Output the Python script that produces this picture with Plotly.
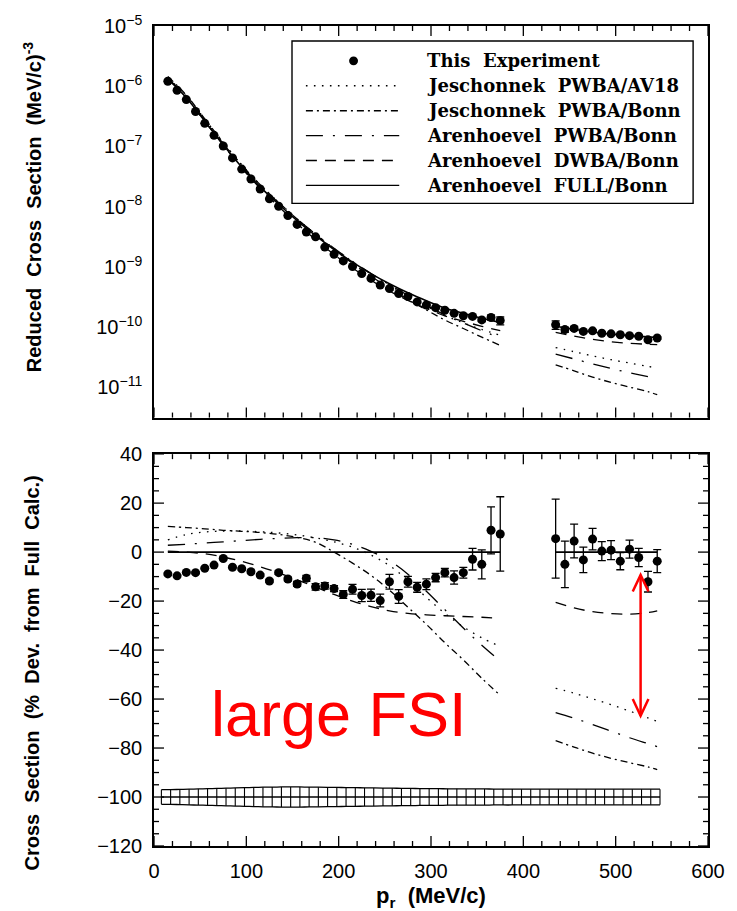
import math
import plotly.graph_objects as go

# ---------------- data ----------------
x_left = [15, 25, 35, 45, 55, 65, 75, 85, 95, 105, 115, 125, 135, 145, 155, 165, 175, 185,
          195, 205, 215, 225, 235, 245, 255, 265, 275, 285, 295, 305, 315, 325, 335, 345,
          355, 365, 375]
x_right = [435, 445, 455, 465, 475, 485, 495, 505, 515, 525, 535, 545]

xsec_left = [1.21e-6, 8.59e-7, 6.01e-7, 3.81e-7, 2.42e-7, 1.53e-7, 1.02e-7, 6.46e-8, 4.21e-8,
             2.88e-8, 1.97e-8, 1.35e-8, 1.02e-8, 7.14e-9, 5.08e-9, 3.80e-9, 3.16e-9, 2.14e-9,
             1.62e-9, 1.26e-9, 1.02e-9, 7.76e-10, 6.46e-10, 5.01e-10, 4.37e-10, 3.63e-10,
             3.24e-10, 2.63e-10, 2.34e-10, 2.11e-10, 1.91e-10, 1.70e-10, 1.55e-10, 1.51e-10,
             1.32e-10, 1.45e-10, 1.29e-10]
xsec_right = [1.10e-10, 9.12e-11, 9.55e-11, 8.51e-11, 8.71e-11, 7.94e-11, 7.76e-11, 7.50e-11,
              7.24e-11, 7.08e-11, 6.17e-11, 6.61e-11]

dev_left = [-8.9, -9.7, -8.3, -8.4, -6.6, -5.3, -2.6, -6.2, -6.8, -8.0, -9.4, -11.8, -8.4,
            -11.0, -13.0, -10.7, -14.2, -13.8, -14.9, -17.3, -15.2, -17.7, -17.6, -19.8,
            -12.1, -18.1, -12.1, -14.4, -13.1, -10.4, -8.4, -10.4, -8.4, -2.9, -5.0, 8.9, 7.4]
dev_right = [5.5, -5.0, 4.5, -3.2, 5.3, 0.4, 0.8, -3.7, 1.2, -2.2, -12.1, -3.7]

err_left = [0.4, 0.4, 0.4, 0.4, 0.4, 0.5, 0.5, 0.5, 0.5, 0.6, 0.6, 0.7, 0.7, 0.8, 1.0, 1.2,
            1.3, 1.3, 1.2, 1.6, 2.0, 2.5, 2.5, 2.6, 3.0, 2.8, 2.2, 2.0, 2.2, 1.7, 1.7, 2.7,
            2.2, 4.4, 5.9, 9.6, 15.2]
err_right = [16.1, 9.5, 6.9, 5.2, 4.4, 3.9, 3.9, 3.5, 3.7, 3.7, 4.2, 4.7]

th_x_left = [15, 35, 55, 75, 95, 115, 135, 155, 175, 195, 215, 235, 255, 275, 295, 315, 335,
             355, 375]
th_x_right = [435, 455, 475, 495, 515, 535, 545]

full_left = [1.318e-6, 6.46e-7, 2.63e-7, 1.07e-7, 4.57e-8, 2.14e-8, 1.10e-8, 5.89e-9, 3.31e-9,
             1.95e-9, 1.20e-9, 7.76e-10, 5.25e-10, 3.72e-10, 2.75e-10, 2.09e-10, 1.70e-10,
             1.41e-10, 1.20e-10]
full_right = [1.035e-10, 9.23e-11, 8.32e-11, 7.67e-11, 7.24e-11, 6.92e-11, 6.76e-11]

jav18_left = [5.0, 7.2, 8.2, 8.6, 8.6, 8.3, 7.8, 7.0, 5.8, 4.2, 2.0, -1.2, -5.5, -11.5, -18.5,
              -25.0, -30.5, -35.0, -38.5]
jav18_right = [-55.6, -57.6, -59.9, -62.3, -64.9, -67.7, -69.1]
jbonn_left = [10.5, 10.0, 9.5, 8.9, 8.5, 8.0, 7.2, 6.0, 4.0, 0.0, -4.5, -9.5, -15.5, -22.5,
              -29.5, -37.0, -44.0, -51.5, -58.5]
jbonn_right = [-77.0, -79.6, -82.1, -84.2, -86.0, -87.7, -88.8]
apwba_left = [2.8, 3.2, 3.7, 4.2, 4.7, 5.2, 5.6, 5.9, 5.9, 5.0, 3.2, 0.3, -3.5, -9.0, -16.0,
              -23.5, -31.0, -38.0, -44.5]
apwba_right = [-65.5, -67.8, -70.4, -73.1, -75.8, -78.2, -79.4]
adwba_left = [0.4, 0.0, -0.7, -2.0, -3.8, -6.0, -8.5, -11.3, -14.3, -17.3, -20.0, -22.3, -24.0,
              -25.0, -25.6, -26.0, -26.3, -26.6, -27.0]
adwba_right = [-20.5, -22.8, -24.3, -25.1, -25.3, -24.7, -24.0]

band_x = [8, 18, 28, 38, 48, 58, 68, 78, 88, 98, 108, 118, 128, 138, 148, 158, 168, 178, 188,
          198, 208, 218, 228, 238, 248, 258, 268, 278, 288, 298, 308, 318, 328, 338, 348, 358,
          368, 378, 388, 398, 408, 418, 428, 438, 448, 458, 468, 478, 488, 498, 508, 518, 528,
          538, 548]
band_hw = [3.0, 3.0, 3.1, 3.2, 3.3, 3.4, 3.5, 3.6, 3.7, 3.8, 3.9, 4.0, 4.05, 4.1, 4.1, 4.1,
           4.05, 4.0, 3.95, 3.9, 3.85, 3.8, 3.75, 3.7, 3.65, 3.6, 3.55, 3.5, 3.45, 3.4, 3.4,
           3.35, 3.35, 3.3, 3.3, 3.3, 3.25, 3.25, 3.25, 3.2, 3.2, 3.2, 3.2, 3.2, 3.2, 3.2, 3.2,
           3.2, 3.2, 3.2, 3.2, 3.2, 3.2, 3.2, 3.2]
band_center = -100

log_tick_vals = [1e-11, 1e-10, 1e-9, 1e-8, 1e-7, 1e-6, 1e-5]
log_tick_text = ["10<sup>\u221211</sup>", "10<sup>\u221210</sup>", "10<sup>\u22129</sup>",
                 "10<sup>\u22128</sup>", "10<sup>\u22127</sup>", "10<sup>\u22126</sup>",
                 "10<sup>\u22125</sup>"]

legend_labels = ["This\u00a0\u00a0Experiment", "Jeschonnek\u00a0\u00a0PWBA/AV18",
                 "Jeschonnek\u00a0\u00a0PWBA/Bonn", "Arenhoevel\u00a0\u00a0PWBA/Bonn",
                 "Arenhoevel\u00a0\u00a0DWBA/Bonn", "Arenhoevel\u00a0\u00a0FULL/Bonn"]

# ---------------- styles ----------------
DASH = {
    "jav18": "1.6px,6.4px",
    "jbonn": "7px,4px,2px,4px",
    "apwba": "17px,10px,2px,10px",
    "adwba": "11px,8px",
    "full": "solid",
}
LW = 1.3
FONT = "Liberation Sans, Arial, sans-serif"

fig = go.Figure()


def join(a, b):
    return list(a) + [None] + list(b)


data_x = join(x_left, x_right)
data_top = join(xsec_left, xsec_right)
data_err_pct = join(err_left, err_right)
data_top_err = [None if v is None else v * e / 100.0 for v, e in zip(data_top, data_err_pct)]
data_dev = join(dev_left, dev_right)

th_x = join(th_x_left, th_x_right)
full_all = join(full_left, full_right)
models = [
    ("jav18", join(jav18_left, jav18_right)),
    ("jbonn", join(jbonn_left, jbonn_right)),
    ("apwba", join(apwba_left, apwba_right)),
    ("adwba", join(adwba_left, adwba_right)),
]

# ---- top panel ----
for key, dev in models:
    ytop = [None if (f is None) else f * (1 + d / 100.0) for f, d in zip(full_all, dev)]
    fig.add_trace(go.Scatter(x=th_x, y=ytop, mode="lines", xaxis="x", yaxis="y",
                             line=dict(color="black", width=LW, dash=DASH[key], shape="spline"),
                             showlegend=False, hoverinfo="skip"))
fig.add_trace(go.Scatter(x=th_x, y=full_all, mode="lines", xaxis="x", yaxis="y",
                         line=dict(color="black", width=1.6, shape="spline"),
                         showlegend=False, hoverinfo="skip"))
fig.add_trace(go.Scatter(x=data_x, y=data_top, mode="markers", xaxis="x", yaxis="y",
                         marker=dict(color="black", size=9),
                         error_y=dict(type="data", array=data_top_err, color="black",
                                      thickness=1.3, width=4),
                         showlegend=False))

# ---- bottom panel ----
for key, dev in models:
    fig.add_trace(go.Scatter(x=th_x, y=dev, mode="lines", xaxis="x2", yaxis="y2",
                             line=dict(color="black", width=LW, dash=DASH[key], shape="spline"),
                             showlegend=False, hoverinfo="skip"))
zero_full = [None if f is None else 0.0 for f in full_all]
fig.add_trace(go.Scatter(x=th_x, y=zero_full, mode="lines", xaxis="x2", yaxis="y2",
                         line=dict(color="black", width=1.6), showlegend=False))
fig.add_trace(go.Scatter(x=data_x, y=data_dev, mode="markers", xaxis="x2", yaxis="y2",
                         marker=dict(color="black", size=9),
                         error_y=dict(type="data", array=data_err_pct, color="black",
                                      thickness=1.3, width=4),
                         showlegend=False))

# ---- hatched systematic band ----
upper = [band_center + h for h in band_hw]
lower = [band_center - h for h in band_hw]
fig.add_trace(go.Scatter(x=band_x, y=upper, mode="lines", xaxis="x2", yaxis="y2",
                         line=dict(color="black", width=1.3, shape="spline"), showlegend=False))
fig.add_trace(go.Scatter(x=band_x, y=lower, mode="lines", xaxis="x2", yaxis="y2",
                         line=dict(color="black", width=1.3, shape="spline"), showlegend=False))
fig.add_trace(go.Scatter(x=[band_x[0], band_x[-1]], y=[band_center, band_center], mode="lines",
                         xaxis="x2", yaxis="y2", line=dict(color="black", width=1.3),
                         showlegend=False))
vx, vy = [], []
for x, lo, up in zip(band_x, lower, upper):
    vx += [x, x, None]
    vy += [lo, up, None]
fig.add_trace(go.Scatter(x=vx, y=vy, mode="lines", xaxis="x2", yaxis="y2",
                         line=dict(color="black", width=1.1), showlegend=False))

# ---------------- layout ----------------
L, R, T, B = 154, 712, 23, 846
W, H = 737, 911


def xp(px):
    return (px - L) / (R - L)


def yp(py):
    return (B - py) / (B - T)


TICKFONT = dict(family=FONT, size=20, color="black")


def ax(**kw):
    d = dict(showline=True, linecolor="black", linewidth=1.6, mirror=True,
             ticks="", showgrid=False, zeroline=False, tickfont=TICKFONT)
    d.update(kw)
    return d


top_dom = [yp(416), 1]
bot_dom = [0, yp(452.7)]

fig.update_layout(
    width=W, height=H,
    margin=dict(l=L, r=W - R, t=T, b=H - B, pad=0),
    paper_bgcolor="white", plot_bgcolor="white",
    font=dict(family=FONT, color="black"),
    showlegend=False,
    xaxis=ax(domain=[0, 1], anchor="y", range=[0, 600], tickmode="linear", tick0=0, dtick=100,
             showticklabels=False),
    yaxis=ax(domain=top_dom, anchor="x", type="log", range=[-11.5, -5], tickmode="array",
             tickvals=log_tick_vals, ticktext=log_tick_text, ticklabelstandoff=6),
    xaxis2=ax(domain=[0, 1], anchor="y2", range=[0, 600], tickmode="linear", tick0=0,
              dtick=100, ticklabelstandoff=6),
    yaxis2=ax(domain=bot_dom, anchor="x2", range=[-120, 40], tickmode="linear", tick0=0,
              dtick=20, ticklabelstandoff=6),
)

shapes = []
annotations = []

# ---- tick marks (inside, mirrored on all four sides) ----
TICK_LINE = dict(color="black", width=1.3)


def x_ticks(xref, y_lo, y_hi, vals, length):
    for v in vals:
        for anchor, sign in ((y_lo, 1), (y_hi, -1)):
            shapes.append(dict(type="line", xref=xref, yref="paper", x0=v, x1=v,
                               ysizemode="pixel", yanchor=anchor, y0=0, y1=sign * length,
                               line=TICK_LINE))


def y_ticks(yref, vals, length):
    for v in vals:
        for anchor, sign in ((0, 1), (1, -1)):
            shapes.append(dict(type="line", xref="paper", yref=yref, y0=v, y1=v,
                               xsizemode="pixel", xanchor=anchor, x0=0, x1=sign * length,
                               line=TICK_LINE))


x_major = list(range(0, 601, 100))
x_minor = [v for v in range(0, 601, 20) if v % 100]
for xr, dom in (("x", top_dom), ("x2", bot_dom)):
    x_ticks(xr, dom[0], dom[1], x_major, 10)
    x_ticks(xr, dom[0], dom[1], x_minor, 5)

y_ticks("y", [math.log10(v) for v in log_tick_vals], 10)
log_minor = [math.log10(k * 10.0 ** e) for e in range(-12, -5) for k in range(2, 10)]
log_minor = [v for v in log_minor if -11.5 <= v <= -5]
y_ticks("y", log_minor, 6)

y2_major = list(range(-120, 41, 20))
y2_minor = [v for v in range(-120, 41, 5) if v % 20]
y_ticks("y2", y2_major, 10)
y_ticks("y2", y2_minor, 5)

# legend box
shapes.append(dict(type="rect", xref="paper", yref="paper", x0=xp(293), x1=xp(697),
                   y0=yp(201), y1=yp(38), line=dict(color="black", width=1.4),
                   fillcolor="white", layer="above"))
rows = [58, 83, 108, 133, 158, 183]
shapes.append(dict(type="circle", xref="paper", yref="paper", x0=xp(350.5), x1=xp(359.5),
                   y0=yp(62.5), y1=yp(53.5), fillcolor="black", line=dict(color="black", width=0)))
for key, ry in zip(["jav18", "jbonn", "apwba", "adwba", "full"], rows[1:]):
    shapes.append(dict(type="line", xref="paper", yref="paper", x0=xp(307), x1=xp(401),
                       y0=yp(ry), y1=yp(ry),
                       line=dict(color="black", width=1.4, dash=DASH[key])))
for lab, ry in zip(legend_labels, rows):
    annotations.append(dict(text=lab, xref="paper", yref="paper", x=xp(427), y=yp(ry),
                            xanchor="left", yanchor="middle", showarrow=False,
                            font=dict(family="DejaVu Serif, Liberation Serif, serif",
                                      size=18, color="black", weight="bold")))

# red double arrow (annotation, in data coords of lower panel)
ax_x, a_top, a_bot = 527, -9.3, -66.8
red = "#ff0000"
shapes.append(dict(type="line", xref="x2", yref="y2", x0=ax_x, x1=ax_x, y0=a_top, y1=a_bot,
                   line=dict(color=red, width=2.5)))
shapes.append(dict(type="path", xref="x2", yref="y2",
                   path=f"M {ax_x-8.5},{a_top-6.8} L {ax_x},{a_top} L {ax_x+8.5},{a_top-6.8}",
                   line=dict(color=red, width=2.5)))
shapes.append(dict(type="path", xref="x2", yref="y2",
                   path=f"M {ax_x-8.5},{a_bot+6.8} L {ax_x},{a_bot} L {ax_x+8.5},{a_bot+6.8}",
                   line=dict(color=red, width=2.5)))

annotations.append(dict(text="large FSI", xref="paper", yref="paper", x=xp(340), y=yp(714),
                        xanchor="center", yanchor="middle", showarrow=False,
                        font=dict(family=FONT, size=63, color=red)))

# axis titles
title_font = dict(family=FONT, size=20, color="black", weight="bold")
annotations.append(dict(text="Reduced\u00a0\u00a0Cross\u00a0\u00a0Section\u00a0\u00a0(MeV/c)<sup>-3</sup>",
                        xref="paper", yref="paper", x=xp(31), y=yp(204), textangle=-90,
                        xanchor="center", yanchor="middle", showarrow=False, font=title_font))
annotations.append(dict(text="Cross\u00a0\u00a0Section\u00a0\u00a0(%\u00a0\u00a0Dev.\u00a0\u00a0from\u00a0\u00a0Full\u00a0\u00a0Calc.)",
                        xref="paper", yref="paper", x=xp(31), y=yp(672), textangle=-90,
                        xanchor="center", yanchor="middle", showarrow=False, font=title_font))
annotations.append(dict(text="p<sub>r</sub>\u00a0\u00a0(MeV/c)", xref="paper", yref="paper",
                        x=xp(433), y=yp(897), xanchor="center", yanchor="middle",
                        showarrow=False, font=dict(family=FONT, size=22, color="black",
                                                   weight="bold")))

fig.update_layout(shapes=shapes, annotations=annotations)

fig.write_html("out.html")
